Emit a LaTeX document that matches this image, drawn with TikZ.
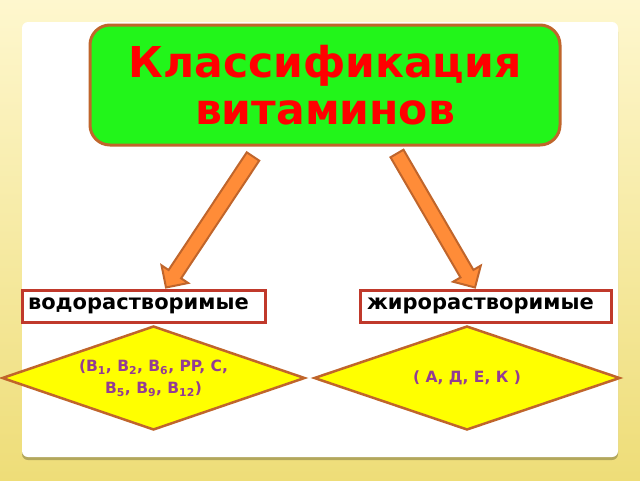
\documentclass[tikz,border=0pt]{standalone}
\usepackage{fontspec}
\setmainfont{DejaVu Sans}
\usetikzlibrary{calc}
\usetikzlibrary{shapes.geometric}
\definecolor{titlegreen}{HTML}{22F51A}
\definecolor{brownline}{HTML}{C0652B}
\definecolor{arroworange}{HTML}{FF8C38}
\definecolor{boxred}{HTML}{C0392B}
\definecolor{vitpurple}{HTML}{933C93}
\definecolor{vityellow}{HTML}{FFFF00}
\definecolor{bgtop}{HTML}{FEF7CE}
\definecolor{bgbottom}{HTML}{EEDD78}
\definecolor{panelshadow}{HTML}{B3A75C}

% block arrow from #1 to #2
\newcommand{\blockarrow}[2]{%
 \coordinate (#1head) at ($(#2)!16pt!(#1)$);
 \draw[arrowbody] ($(#1)!7.5pt!90:(#2)$) -- ($(#1head)!7.5pt!90:(#2)$) -- ($(#1head)!16pt!90:(#2)$) -- (#2)
   -- ($(#1head)!16pt!-90:(#2)$) -- ($(#1head)!7.5pt!-90:(#2)$) -- ($(#1)!7.5pt!-90:(#2)$) -- cycle;
}

\begin{document}
\begin{tikzpicture}[x=1pt,y=-1pt,
 title/.style={draw=brownline, line width=3pt, fill=titlegreen, rounded corners=20pt, minimum width=470pt, minimum height=120pt, text=red, font=\fontsize{42.5}{47}\selectfont\bfseries, align=center},
 group/.style={draw=boxred, line width=3pt, fill=white, minimum height=32pt, inner ysep=0pt, align=left, font=\fontsize{21}{24}\selectfont\bfseries},
 vit/.style={diamond, shape aspect=3, draw=brownline, line width=2.5pt, fill=vityellow, minimum height=104pt, inner sep=0pt, text=vitpurple, align=center, font=\fontsize{15.5}{22}\selectfont\bfseries},
 arrowbody/.style={draw=brownline, line width=2pt, fill=arroworange, line join=miter}]
\shade[top color=bgtop, bottom color=bgbottom] (0,0) rectangle (640,480);
\fill[panelshadow, rounded corners=6pt] (22,26) rectangle (618,460);
\fill[white, rounded corners=6pt] (22,22) rectangle (618,457);

\node[title] (klass) at (325,85) {Классификация\\витаминов};

\node[group, inner xsep=6pt, text width=231pt] (water) at (143.5,306) {водорастворимые};
\node[group, inner xsep=7pt, text width=237pt] (fat) at (485.5,306) {жирорастворимые};

\node[vit, minimum width=303pt] (wlist) at (153.5,378) {(B\textsubscript{1}, B\textsubscript{2}, B\textsubscript{6}, PP, C,\\B\textsubscript{5}, B\textsubscript{9}, B\textsubscript{12})};
\node[vit, minimum width=306pt] (flist) at (467,378) {( А, Д, Е, К )};

\coordinate (wtail) at ($(klass.south)+(-72,10)$);
\coordinate (wtip) at ($(water.north)+(22.5,-1)$);
\coordinate (ftail) at ($(klass.south)+(72,7)$);
\coordinate (ftip) at ($(fat.north)+(-10.5,-1)$);
\blockarrow{wtail}{wtip}
\blockarrow{ftail}{ftip}
\end{tikzpicture}
\end{document}
